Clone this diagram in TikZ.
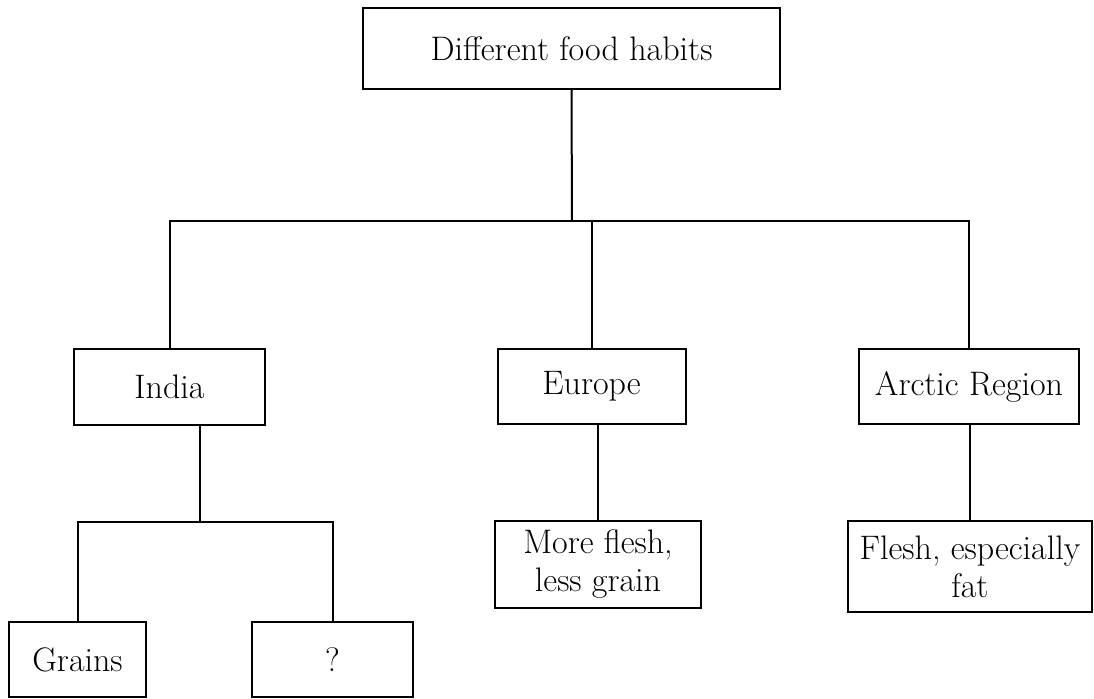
\documentclass[tikz,border=0pt]{standalone}
\usepackage{tikz}
\usetikzlibrary{positioning}
\tikzset{
  habitbox/.style={draw, line width=1pt, align=center, inner sep=2pt, font=\fontsize{17}{19}\selectfont},
  linkline/.style={line width=1pt}
}

\begin{document}
\begin{tikzpicture}[x=0.5pt, y=-0.5pt]
      \useasboundingbox (0,0) rectangle (1094,698);
      \node[habitbox, minimum width=208.5pt, minimum height=40.5pt] (habits) at (571.5,48.5) {Different food habits};
      \node[habitbox, minimum width=95.5pt, minimum height=38pt] (india) at (169.5,387) {India};
      \node[habitbox, minimum width=94pt, minimum height=37.5pt] (europe) at (591.5,386.5) {Europe};
      \node[habitbox, minimum width=110pt, minimum height=37.5pt] (arctic) at (969,386.5) {Arctic Region};
      \node[habitbox, minimum width=68.5pt, minimum height=37.5pt] (grains) at (77.5,659.5) {Grains};
      \node[habitbox, minimum width=80.5pt, minimum height=37.5pt] (unknown) at (332.5,659.5) {?};
      \node[habitbox, minimum width=103pt, minimum height=43.5pt] (moreflesh) at (598,564.5) {More flesh,\\ less grain};
      \node[habitbox, minimum width=122pt, minimum height=45.5pt] (fatflesh) at (970,566.5) {Flesh, especially\\ fat};
      \coordinate (mainbus) at (572,221);
      \coordinate (indiabus) at (200,522);
      % top level
      \draw[linkline] (habits.south) -- (mainbus);
      \draw[linkline] (india.north) |- (mainbus) -| (arctic.north);
      \draw[linkline] (europe.north) -- (europe.north |- mainbus);
      % india
      \draw[linkline] (indiabus |- india.south) -- (indiabus);
      \draw[linkline] (grains.north) |- (indiabus) -| (unknown.north);
      % europe and arctic
      \draw[linkline] (moreflesh.north) -- (moreflesh.north |- europe.south);
      \draw[linkline] (fatflesh.north) -- (fatflesh.north |- arctic.south);
    \end{tikzpicture}
\end{document}
